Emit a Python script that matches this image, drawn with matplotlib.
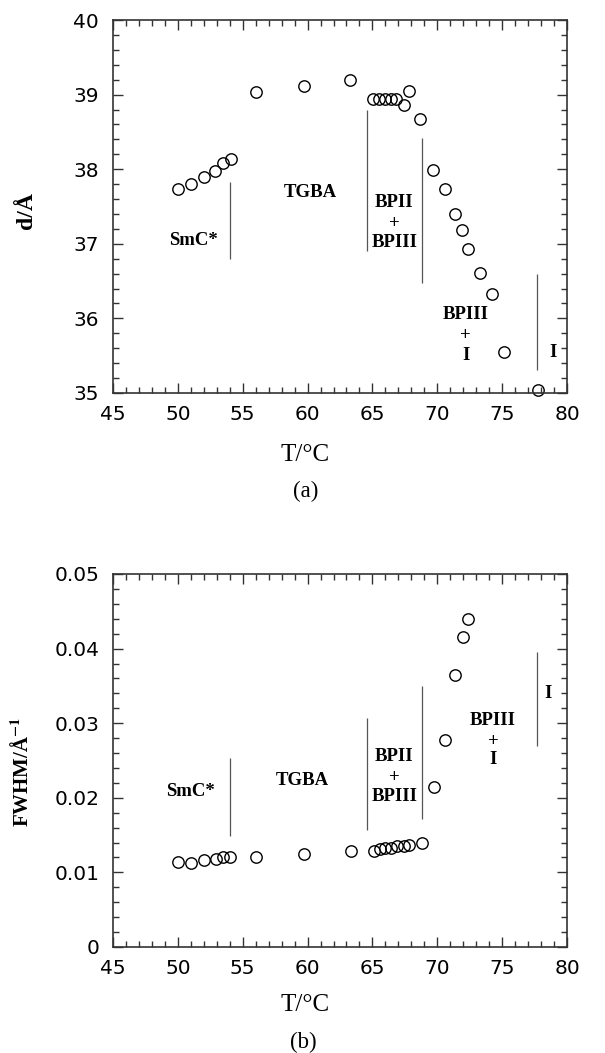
import numpy as np
import matplotlib
matplotlib.use("Agg")
import matplotlib.pyplot as plt
from matplotlib.ticker import MultipleLocator

# (a) layer spacing d vs temperature
t_a = [50.0, 51.0, 52.0, 52.9, 53.5, 54.1, 56.0, 59.7, 63.3,
       65.05, 65.5, 65.95, 66.4, 66.8, 67.4, 67.8, 68.7,
       69.7, 70.6, 71.4, 71.9, 72.4, 73.3, 74.2, 75.15, 77.8]
d_a = [37.74, 37.80, 37.90, 37.98, 38.08, 38.13, 39.03, 39.12, 39.20,
       38.94, 38.94, 38.94, 38.94, 38.94, 38.86, 39.05, 38.67,
       37.99, 37.74, 37.40, 37.18, 36.93, 36.61, 36.33, 35.55, 35.04]

# (b) FWHM vs temperature
t_b = [50.0, 51.05, 52.05, 52.97, 53.5, 54.05, 56.05, 59.75, 63.35,
       65.15, 65.6, 66.0, 66.4, 66.9, 67.4, 67.85, 68.8,
       69.75, 70.6, 71.4, 71.95, 72.35]
w_b = [0.0114, 0.0113, 0.0117, 0.0118, 0.0121, 0.0121, 0.0121, 0.0125, 0.0129,
       0.0128, 0.0131, 0.0132, 0.0133, 0.0135, 0.0136, 0.0137, 0.0140,
       0.0215, 0.0278, 0.0364, 0.0416, 0.0439]

# phase boundaries: x, ymin, ymax
bounds_a = [(54.0, 36.80, 37.83), (64.6, 36.90, 38.79), (68.8, 36.48, 38.42), (77.7, 35.31, 36.60)]
bounds_b = [(54.0, 0.0149, 0.0253), (64.6, 0.0157, 0.0307), (68.8, 0.0172, 0.0350), (77.65, 0.0269, 0.0396)]

# phase labels: text, x, y
labels_a = [("SmC*", 51.2, 37.04), ("TGBA", 60.2, 37.69),
            ("BPII", 66.7, 37.55), ("+", 66.7, 37.27), ("BPIII", 66.7, 37.02),
            ("BPIII", 72.2, 36.05), ("+", 72.2, 35.77), ("I", 72.2, 35.50),
            ("I", 78.9, 35.54)]
labels_b = [("SmC*", 51.0, 0.0208), ("TGBA", 59.6, 0.0223),
            ("BPII", 66.7, 0.0255), ("+", 66.7, 0.0227), ("BPIII", 66.7, 0.0202),
            ("BPIII", 74.3, 0.0303), ("+", 74.3, 0.0275), ("I", 74.3, 0.0251),
            ("I", 78.5, 0.0340)]

plt.rcParams["mathtext.fontset"] = "stix"
serif = "Liberation Serif"

fig = plt.figure(figsize=(6.05, 10.53), dpi=100)
ax_a = fig.add_axes([0.1868, 0.6268, 0.7504, 0.3542])
ax_b = fig.add_axes([0.1868, 0.1007, 0.7504, 0.3542])


def style(ax, ylim, ymaj, ymin):
    ax.set_xlim(45, 80)
    ax.set_ylim(*ylim)
    ax.xaxis.set_major_locator(MultipleLocator(5))
    ax.xaxis.set_minor_locator(MultipleLocator(1))
    ax.yaxis.set_major_locator(MultipleLocator(ymaj))
    ax.yaxis.set_minor_locator(MultipleLocator(ymin))
    ax.tick_params(which="both", direction="in", top=True, right=True,
                   color="#333333", width=1.0)
    ax.tick_params(which="major", length=7)
    ax.tick_params(which="minor", length=4)
    ax.tick_params(axis="x", pad=8.5, labelsize=14.5)
    ax.tick_params(axis="y", pad=10, labelsize=14.5)
    for s in ax.spines.values():
        s.set_linewidth(1.2)
        s.set_color("#333333")


def draw(ax, t, v, bounds, labels):
    ax.plot(t, v, "o", mfc="none", mec="black", ms=8.2, mew=1.0, clip_on=False)
    for x, y0, y1 in bounds:
        ax.vlines(x, y0, y1, color="#555555", lw=0.9)
    for s, x, y in labels:
        ax.text(x, y, s, ha="center", va="center", fontsize=13.5,
                fontweight="bold", family=serif)


style(ax_a, (35, 40), 1, 0.2)
draw(ax_a, t_a, d_a, bounds_a, labels_a)
ax_a.yaxis.set_major_formatter(plt.FormatStrFormatter("%d"))
ax_a.set_ylabel("d/Å", fontsize=17, fontweight="bold", family=serif)
ax_a.yaxis.set_label_coords(-0.167, 0.49)
ax_a.text(0.423, -0.166, "T/°C", transform=ax_a.transAxes, ha="center",
          va="center", fontsize=18, family=serif)
ax_a.text(0.425, -0.265, "(a)", transform=ax_a.transAxes, ha="center",
          va="center", fontsize=16.5, family=serif)

style(ax_b, (0, 0.05), 0.01, 0.002)
draw(ax_b, t_b, w_b, bounds_b, labels_b)
ax_b.yaxis.set_major_formatter(plt.FuncFormatter(lambda v, p: "0" if v == 0 else "%.2f" % v))
ax_b.set_ylabel(r"FWHM/Å$^{\mathbf{-1}}$", fontsize=15, fontweight="bold", family=serif)
ax_b.yaxis.set_label_coords(-0.176, 0.47)
ax_b.text(0.423, -0.155, "T/°C", transform=ax_b.transAxes, ha="center",
          va="center", fontsize=18, family=serif)
ax_b.text(0.42, -0.257, "(b)", transform=ax_b.transAxes, ha="center",
          va="center", fontsize=16.5, family=serif)

fig.savefig("out.png", dpi=100)
